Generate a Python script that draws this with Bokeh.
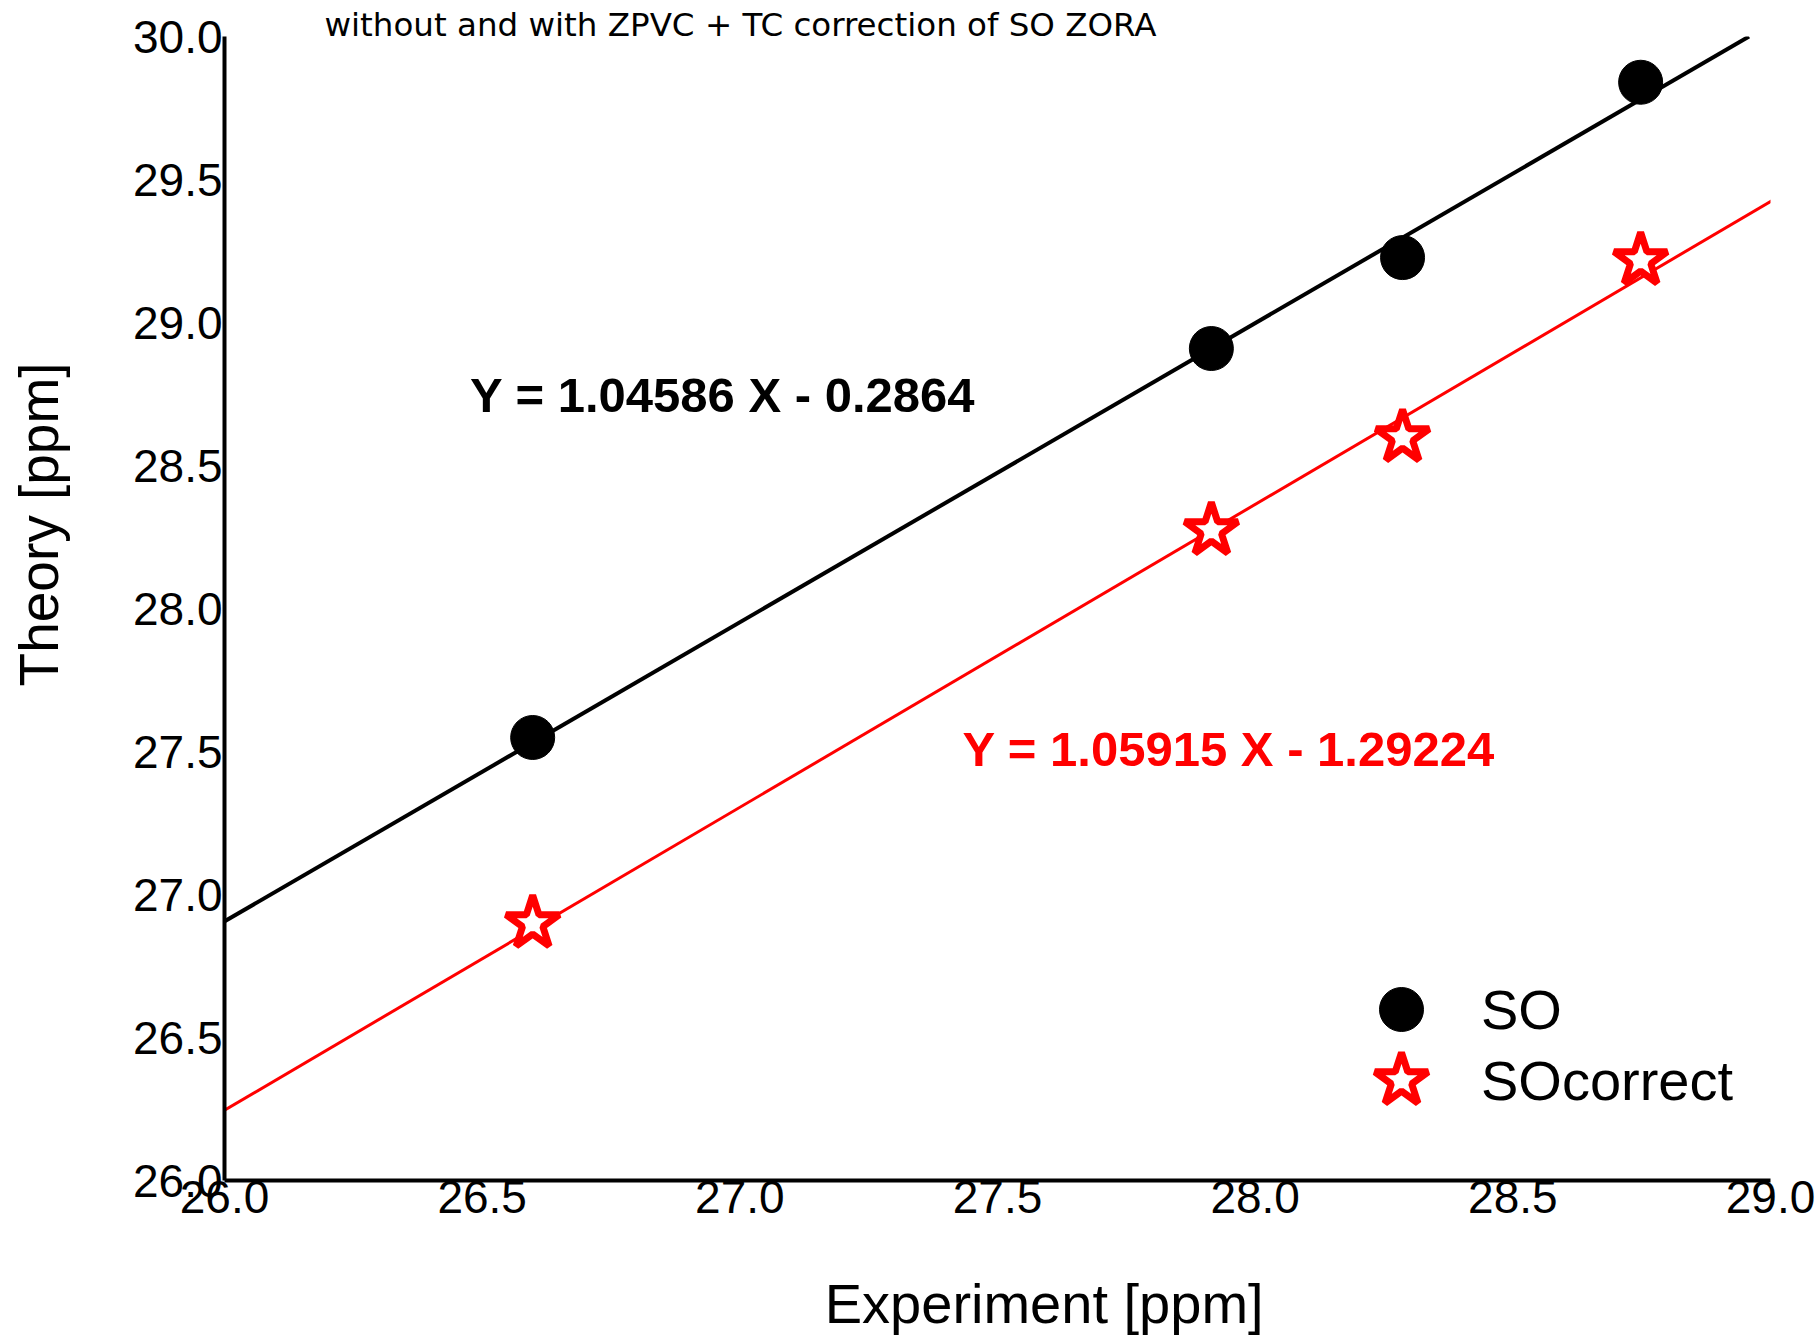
from bokeh.plotting import figure
from bokeh.models import (Range1d, FixedTicker, PrintfTickFormatter, Label,
                          Slope, Legend, LegendItem, Title)
from bokeh.embed import file_html
from bokeh.resources import INLINE

# ---------------- data ----------------
experiment = [26.598, 27.915, 28.286, 28.748]
theory_so = [27.549, 28.909, 29.227, 29.840]
theory_socorrect = [26.899, 28.273, 28.598, 29.217]
series_names = ["SO", "SOcorrect"]
fit_slopes = [1.04586, 1.05915]
fit_intercepts = [-0.2864, -1.29224]
x_ticks = [26.0, 26.5, 27.0, 27.5, 28.0, 28.5, 29.0]
y_ticks = [26.0, 26.5, 27.0, 27.5, 28.0, 28.5, 29.0, 29.5, 30.0]
title_text = "without and with ZPVC + TC correction of SO ZORA"
x_label = "Experiment [ppm]"
y_label = "Theory [ppm]"

FONT = "Liberation Sans"
NBSP = "\u00a0"

p = figure(width=1815, height=1341,
           x_range=Range1d(26, 29), y_range=Range1d(26, 30),
           output_backend="svg", toolbar_location=None,
           min_border_left=224, min_border_right=45,
           min_border_top=36, min_border_bottom=161)

p.grid.visible = False
p.outline_line_color = None
p.background_fill_color = "white"
p.border_fill_color = "white"

for ax in (p.xaxis[0], p.yaxis[0]):
    ax.axis_line_width = 4
    ax.axis_line_color = "black"
    ax.major_tick_line_color = None
    ax.minor_tick_line_color = None
    ax.major_tick_out = 0
    ax.major_tick_in = 0
    ax.minor_tick_out = 0
    ax.major_label_text_font = FONT
    ax.major_label_text_font_size = "46px"
    ax.major_label_text_color = "black"
    ax.formatter = PrintfTickFormatter(format="%.1f")
    ax.axis_label_text_font = FONT
    ax.axis_label_text_font_style = "normal"
    ax.axis_label_text_color = "black"
p.xaxis.ticker = FixedTicker(ticks=x_ticks)
p.yaxis.ticker = FixedTicker(ticks=y_ticks)
p.xaxis.major_label_standoff = 0
p.yaxis.major_label_standoff = 2

# axis labels (leading no-break spaces shift the visible text along the axis)
p.yaxis.axis_label = NBSP * 11 + y_label
p.yaxis.axis_label_text_font_size = "55px"
p.yaxis.axis_label_standoff = 60
p.xaxis.axis_label = NBSP * 6 + x_label
p.xaxis.axis_label_text_font_size = "56px"
p.xaxis.axis_label_standoff = 56

# title
p.add_layout(Title(text=title_text, align="left", offset=100, standoff=-14,
                   text_font="DejaVu Sans", text_font_size="32.5px",
                   text_font_style="normal", text_color="black"), "above")

# fit lines
colors = ["black", "red"]
widths = [4, 3]
for s, b, c, w in zip(fit_slopes, fit_intercepts, colors, widths):
    sl = Slope(gradient=s, y_intercept=b, line_color=c, line_width=w, level="underlay")
    p.add_layout(sl)

r_so = p.scatter(experiment, theory_so, marker="circle", size=44,
                 fill_color="black", line_color="black")
r_sc = p.scatter(experiment, theory_socorrect, marker="star", size=56,
                 fill_color="white", line_color="red", line_width=7)

# equations
eq_pos = [(26.4766, 28.745), (27.432, 27.509)]
for s, b, c, (ex, ey) in zip(fit_slopes, fit_intercepts, colors, eq_pos):
    txt = f"Y = {s} X - {abs(b)}"
    p.add_layout(Label(x=ex, y=ey, text=txt, text_color=c, text_font=FONT,
                       text_font_size="49px", text_font_style="bold",
                       text_align="left", text_baseline="alphabetic"))

# legend: one entry per legend box
leg_specs = [(r_so, 110, (1122, 116), 25), (r_sc, 140, (1107, 30), 10)]
for name, (rend, box, loc, stand) in zip(series_names, leg_specs):
    lg = Legend(items=[LegendItem(label=name, renderers=[rend])],
                location=loc, orientation="vertical",
                glyph_width=box, glyph_height=box, label_height=box,
                spacing=0, padding=0, margin=0, label_standoff=stand,
                label_text_font=FONT, label_text_font_size="56px",
                label_text_color="black",
                border_line_color=None, background_fill_alpha=0)
    p.add_layout(lg, "center")

open("out.html", "w").write(file_html(p, INLINE))
